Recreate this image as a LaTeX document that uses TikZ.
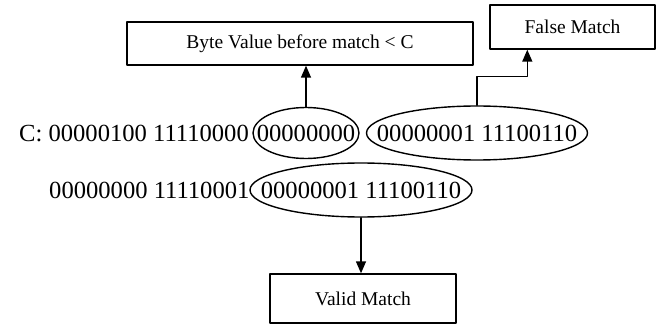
\documentclass[tikz,border=0pt]{standalone}
\usepackage{fontspec}
\setmainfont{Liberation Serif}
\usepackage{tikz}
\usetikzlibrary{arrows.meta}
\usetikzlibrary{shapes.geometric}

\tikzset{
  label box/.style={draw,rectangle,line width=1.4pt,inner sep=0pt,
    font=\fontsize{19.5}{22}\selectfont},
  bits/.style={inner sep=0pt,font=\fontsize{24.6}{28}\selectfont},
  ring/.style={draw,ellipse,line width=1.4pt,inner sep=0pt},
}

\begin{document}
\begin{tikzpicture}[line cap=round,line join=round,>={Triangle[length=12pt,width=10pt]},x=1pt,y=1pt]
        \useasboundingbox (0,0) rectangle (658,327);
        % the two rows of bytes
        \node[bits,anchor=west] (rowc) at (19,194) {C: 00000100 11110000};
        \node[bits] (lowc) at (306,194) {00000000};
        \node[bits] (hic) at (477,194) {00000001 11100110};
        \node[bits,anchor=west] (rowd) at (49,137) {00000000 11110001};
        \node[bits] (hid) at (361,137) {00000001 11100110};
        % rings round the matched bytes
        \node[ring,minimum width=106pt,minimum height=51pt] (ringlow) at (lowc) {};
        \node[ring,minimum width=221pt,minimum height=54pt] (ringhic) at (hic) {};
        \node[ring,minimum width=222pt,minimum height=54pt] (ringhid) at (hid) {};
        % result boxes
        \node[label box,minimum width=346pt,minimum height=43pt] (before) at (300,283.5) {Byte Value before match < C};
        \node[label box,minimum width=165pt,minimum height=44pt] (false) at (572.5,300) {False Match};
        \node[label box,minimum width=186pt,minimum height=49pt] (valid) at (363,28.5) {Valid Match};
        % arrows
        \draw[->,line width=1.4pt] (ringlow.north) -- (ringlow.north |- before.south);
        \draw[->,line width=1.4pt] (ringhic.north) -- ++(0,29) -| ([xshift=38pt]false.south west);
        \draw[->,line width=1.4pt] (ringhid.south) -- (ringhid.south |- valid.north);
      \end{tikzpicture}
\end{document}
